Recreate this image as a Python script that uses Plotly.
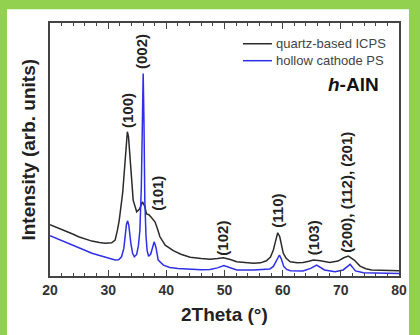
import plotly.graph_objects as go

# ---- data ----
icps_x = [20, 21, 22.6, 24, 24.9, 26, 27.2, 28.5, 29.5, 30.6, 31.2, 31.6, 31.9, 32.5, 32.9,
          33.15, 33.3, 33.5, 33.9, 34.3, 34.9, 35.4, 35.9, 36.3, 36.6, 37.0, 37.4, 38.05,
          38.5, 38.9, 39.8, 41.2, 42.5, 44.1, 46, 47.5, 48.8, 49.8, 51, 52.1, 53.5, 55,
          56.2, 57.2, 57.9, 58.4, 58.8, 59.15, 59.5, 60.1, 60.6, 61.3, 62.5, 63.5, 64.5,
          65.3, 66.5, 68.1, 69.5, 70.5, 71.3, 72.3, 73.3, 74.3, 75.3, 77, 79.6, 80]
icps_y = [20.3, 19.4, 17.9, 16.5, 15.5, 14.6, 13.8, 13.2, 12.9, 13.1, 14.2, 18.2, 22, 33, 45,
          53, 57, 55, 42, 30, 25.4, 26.5, 29.3, 27.5, 24.5, 24.2, 23.2, 21.4,
          18.5, 15.5, 12.2, 10, 8.6, 7.4, 6.9, 6.6, 6.9, 7.2, 6.5, 5.6, 5.3, 5.0,
          5.2, 6.0, 7.5, 10.3, 14, 17.1, 15.5, 9, 7, 5.6, 5.2, 5.3, 5.8,
          6.3, 6.0, 5.3, 5.9, 7.2, 7.9, 6.3, 3.9, 2.9, 2.4, 2.2, 2.1, 2.1]

hc_x = [20, 21, 22.6, 24, 24.9, 26, 27.2, 28.5, 29.5, 30.5, 31.2, 31.8, 32.3, 32.7, 32.95,
        33.15, 33.35, 33.55, 33.9, 34.2, 34.5, 34.9, 35.2, 35.45, 35.7, 35.9, 36.02, 36.15,
        36.3, 36.5, 36.7, 36.95, 37.3, 37.6, 37.9, 38.2, 38.6, 39.5, 40.6, 42, 44.1, 46,
        47.5, 48.8, 49.9, 51, 52.1, 55, 57, 57.8, 58.4, 58.8, 59.15, 59.45, 59.8, 60.2,
        60.7, 61.3, 63.5, 64.8, 65.85, 66.6, 67.2, 69.0, 70.4, 71.0, 71.6, 72.0, 72.5,
        73.9, 76, 79.6, 80]
hc_y = [15.9, 15, 13.5, 12.2, 11.3, 10.2, 9, 8.1, 7.4, 6.8, 6.3, 6.4, 7.6, 11, 16.8,
        20.5, 21.8, 20, 12.9, 9, 7.6, 8.5, 12, 18, 35, 65, 80, 62,
        30, 16, 10, 7.8, 8.6, 11, 13.5, 11.5, 6.3, 4.3, 3.4, 3.0, 2.6, 2.5,
        2.6, 3.2, 4.1, 3.2, 2.4, 2.4, 2.5, 2.8, 3.8, 5.6, 7.5, 8.3, 6.5, 3.7,
        2.6, 2.1, 2.0, 3.0, 4.3, 3.4, 2.4, 1.7, 2.4, 3.5, 4.6, 3.5, 2.0,
        1.3, 1.1, 1.0, 1.0]

peak_labels = ["(100)", "(002)", "(101)", "(102)", "(110)", "(103)", "(200), (112), (201)"]
peak_x = [33.36, 35.76, 38.34, 49.5, 59.14, 65.27, 70.83]
peak_y = [65.5, 88.8, 32.8, 15.0, 25.7, 15.0, 33.2]

series_names = ["quartz-based ICPS", "hollow cathode PS"]
x_ticks = [20, 30, 40, 50, 60, 70, 80]

FONT = "Liberation Sans, Arial, sans-serif"
BLACK = "#2b2b2b"
BLUE = "#2f2fe8"
GREEN = "#92d050"
colors = [BLACK, BLUE]

fig = go.Figure()
fig.add_trace(go.Scatter(x=icps_x, y=icps_y, mode="lines", name=series_names[0],
                         line=dict(color=BLACK, width=1.5), showlegend=False))
fig.add_trace(go.Scatter(x=hc_x, y=hc_y, mode="lines", name=series_names[1],
                         line=dict(color=BLUE, width=1.5), showlegend=False))

for t, x, y in zip(peak_labels, peak_x, peak_y):
    fig.add_annotation(x=x, y=y, text="<b>%s</b>" % t, textangle=-90, showarrow=False,
                       xanchor="center", yanchor="middle",
                       font=dict(family=FONT, size=15, color="#222"))

# legend (drawn in plot-area paper coordinates)
leg_rows_y = [0.918, 0.851]
for name, col, ly in zip(series_names, colors, leg_rows_y):
    fig.add_shape(type="line", xref="paper", yref="paper", x0=0.553, x1=0.636, y0=ly, y1=ly,
                  line=dict(color=col, width=1.5))
    fig.add_annotation(xref="paper", yref="paper", x=0.643, y=ly, xanchor="left",
                       yanchor="middle", showarrow=False, text=name,
                       font=dict(family=FONT, size=13, color="#444"))

fig.add_annotation(xref="paper", yref="paper", x=0.948, y=0.755, xanchor="right",
                   yanchor="middle", showarrow=False,
                   text="<b><i>h</i>-AlN</b>",
                   font=dict(family=FONT, size=19, color="#111"))

# axis titles
fig.add_annotation(xref="paper", yref="paper", x=0.5, y=-0.154, xanchor="center",
                   yanchor="middle", showarrow=False, text="<b>2Theta (°)</b>",
                   font=dict(family=FONT, size=19, color="#222"))
fig.add_annotation(xref="paper", yref="paper", x=-0.063, y=0.5, xanchor="center",
                   yanchor="middle", showarrow=False, textangle=-90,
                   text="<b>Intensity (arb. units)</b>",
                   font=dict(family=FONT, size=19, color="#222"))

# white card on green frame
fig.add_shape(type="rect", xref="paper", yref="paper", x0=-0.1232, x1=1.0287,
              y0=-0.30, y1=1.054, fillcolor="white", line=dict(width=0), layer="below")

axis_col = "#444"
fig.update_layout(
    width=420, height=335,
    margin=dict(l=50, r=21, t=23, b=59, autoexpand=False),
    paper_bgcolor=GREEN, plot_bgcolor="white",
    font=dict(family=FONT, color="#222"),
    showlegend=False,
    xaxis=dict(range=[20, 80], tickvals=x_ticks, ticktext=["<b>%d</b>" % v for v in x_ticks],
               ticks="inside", ticklen=6, tickwidth=1.2, tickcolor=axis_col,
               minor=dict(dtick=2, ticks="inside", ticklen=3, tickwidth=1, tickcolor=axis_col),
               showline=True, linecolor=axis_col, linewidth=1.5, mirror="ticks",
               showgrid=False, zeroline=False, automargin=False,
               tickfont=dict(family=FONT, size=14, color="#333")),
    yaxis=dict(range=[0, 100], showticklabels=False, ticks="",
               showline=True, linecolor=axis_col, linewidth=1.5, mirror=True,
               showgrid=False, zeroline=False, automargin=False),
)

fig.write_html("out.html", config={"displayModeBar": False},
               post_script="document.body.style.margin='0';document.body.style.overflow='hidden';")
